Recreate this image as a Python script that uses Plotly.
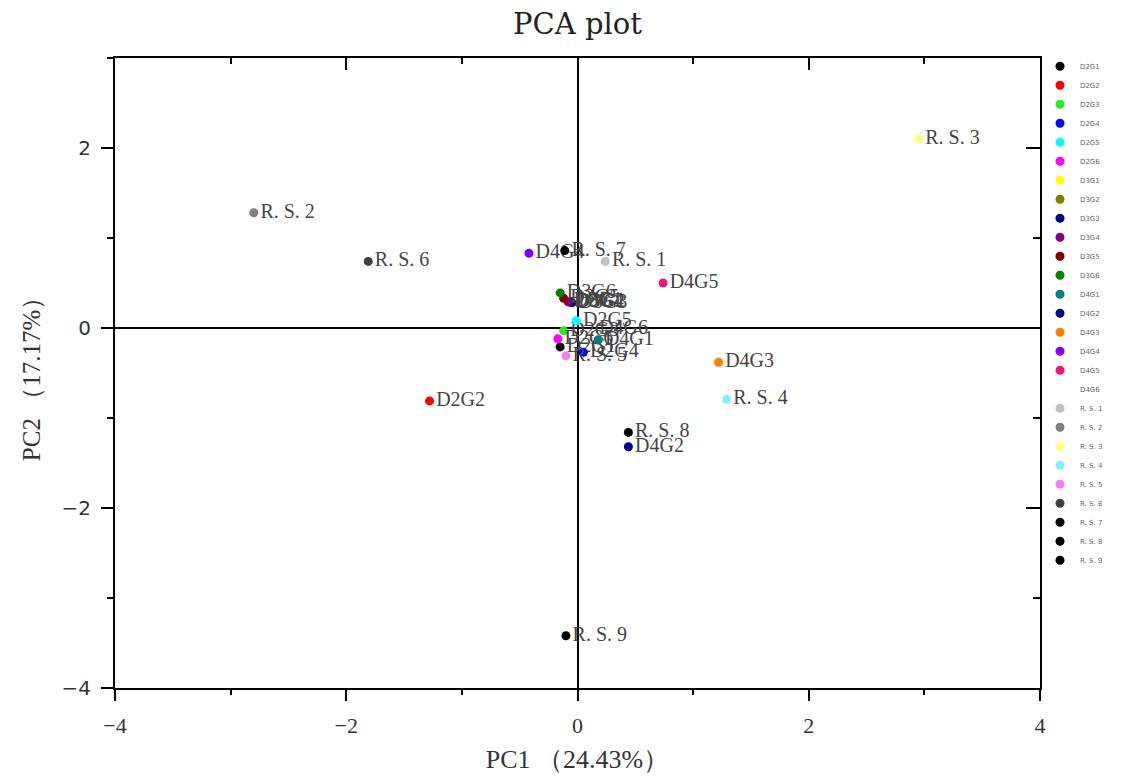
import plotly.graph_objects as go

# ---- data ----
names = ["D2G1", "D2G2", "D2G3", "D2G4", "D2G5", "D2G6",
         "D3G1", "D3G2", "D3G3", "D3G4", "D3G5", "D3G6",
         "D4G1", "D4G2", "D4G3", "D4G4", "D4G5", "D4G6",
         "R. S. 1", "R. S. 2", "R. S. 3", "R. S. 4", "R. S. 5",
         "R. S. 6", "R. S. 7", "R. S. 8", "R. S. 9"]
pc1 = [-0.15, -1.28, -0.12, 0.05, -0.01, -0.17,
       -0.09, -0.07, -0.05, -0.08, -0.12, -0.15,
       0.18, 0.44, 1.22, -0.42, 0.74, 0.13,
       0.24, -2.80, 2.95, 1.29, -0.10,
       -1.81, -0.11, 0.44, -0.10]
pc2 = [-0.21, -0.81, -0.03, -0.27, 0.08, -0.12,
       0.30, 0.29, 0.28, 0.29, 0.33, 0.39,
       -0.13, -1.32, -0.38, 0.83, 0.50, -0.01,
       0.74, 1.28, 2.10, -0.79, -0.31,
       0.74, 0.86, -1.16, -3.42]
colors = ["#000000", "#ff0000", "#22ee22", "#0000ff", "#00ffff", "#ff00ff",
          "#ffff00", "#808000", "#000080", "#800080", "#800000", "#008000",
          "#008080", "#00008b", "#ff8000", "#8000ff", "#f0157a", "rgba(0,0,0,0)",
          "#c0c0c0", "#808080", "#ffff80", "#80f0ff", "#f080f0",
          "#404040", "#000000", "#000000", "#000000"]

x_range = [-4, 4]
y_range = [-4, 3]
x_title = "PC1 （24.43%）"
y_title = "PC2 （17.17%）"
chart_title = "PCA plot"

fig = go.Figure()
for n, xv, yv, c in zip(names, pc1, pc2, colors):
    fig.add_trace(go.Scatter(
        x=[xv], y=[yv], name=n, mode="markers+text", text=[n],
        textposition="middle right",
        textfont=dict(family="Liberation Serif", size=20, color="#444444"),
        marker=dict(size=9, color=c, line=dict(width=0)),
        legendgroup=n,
    ))

# empty trace to host the mirrored top/right axes
fig.add_trace(go.Scatter(x=[], y=[], xaxis="x2", yaxis="y2",
                         showlegend=False, hoverinfo="skip"))

axis_common = dict(showgrid=False, showline=True, linecolor="black",
                   linewidth=2, tickcolor="black", tickwidth=2)

W, H = 1129, 774
fig.update_layout(
    width=W, height=H,
    margin=dict(l=107, r=97, t=50, b=94),
    paper_bgcolor="white", plot_bgcolor="white",
    title=dict(text=chart_title, x=0.5, xref="paper", xanchor="center",
               y=1 - 16 / H, yref="container", yanchor="middle",
               font=dict(family="DejaVu Serif", size=29, color="#222222")),
    xaxis=dict(range=x_range, tick0=-4, dtick=2, ticks="outside", ticklen=11,
               minor=dict(dtick=1, ticklen=5, ticks="outside",
                          tickcolor="black", tickwidth=2),
               zeroline=True, zerolinecolor="black", zerolinewidth=2,
               ticklabelstandoff=6,
               tickfont=dict(family="Liberation Serif", size=22, color="#333333"),
               title=dict(text=x_title, standoff=12,
                          font=dict(family="Liberation Serif", size=26, color="#333333")),
               **axis_common),
    yaxis=dict(range=y_range, tick0=0, dtick=2, ticks="outside", ticklen=12,
               minor=dict(dtick=1, ticklen=6, ticks="outside",
                          tickcolor="black", tickwidth=2),
               zeroline=True, zerolinecolor="black", zerolinewidth=2,
               ticklabelstandoff=6,
               tickfont=dict(family="DejaVu Sans", size=20, color="#333333"),
               title=dict(text=y_title, standoff=14,
                          font=dict(family="Liberation Serif", size=25, color="#333333")),
               **axis_common),
    xaxis2=dict(range=x_range, overlaying="x", side="top", anchor="y2",
                tick0=-4, dtick=2, ticks="inside", ticklen=12,
                minor=dict(dtick=1, ticklen=6, ticks="inside",
                           tickcolor="black", tickwidth=2),
                showticklabels=False, zeroline=False, **axis_common),
    yaxis2=dict(range=y_range, overlaying="y", side="right", anchor="x2",
                tick0=0, dtick=2, ticks="inside", ticklen=14,
                minor=dict(dtick=1, ticklen=7, ticks="inside",
                           tickcolor="black", tickwidth=2),
                showticklabels=False, zeroline=False, **axis_common),
    legend=dict(x=1.0, xanchor="left", y=1.01, yanchor="top", maxheight=1,
                font=dict(family="DejaVu Sans", size=7, color="#666666"),
                bgcolor="rgba(0,0,0,0)", tracegroupgap=0),
    showlegend=True,
)

fig.write_html("out.html")
